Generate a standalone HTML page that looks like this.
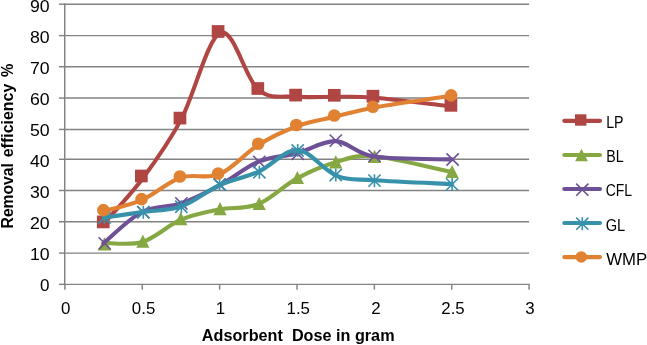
<!DOCTYPE html>
<html><head><meta charset="utf-8"><title>Removal efficiency vs adsorbent dose</title>
<style>
html,body{margin:0;padding:0;background:#fff;}
body{width:647px;height:345px;overflow:hidden;}
svg{display:block;will-change:transform;}
text{font-family:"Liberation Sans",sans-serif;fill:#000;}
.t{font-size:16.5px;}
.l{font-size:15.8px;}
.b{font-size:16.2px;font-weight:bold;}
</style></head><body>
<svg width="647" height="345" viewBox="0 0 647 345">
<rect width="647" height="345" fill="#ffffff"/>
<line x1="64.72" y1="253.10" x2="529.09" y2="253.10" stroke="#828282" stroke-width="1.45"/>
<line x1="64.72" y1="221.75" x2="529.09" y2="221.75" stroke="#828282" stroke-width="1.45"/>
<line x1="64.72" y1="190.50" x2="529.09" y2="190.50" stroke="#828282" stroke-width="1.45"/>
<line x1="64.72" y1="159.30" x2="529.09" y2="159.30" stroke="#828282" stroke-width="1.45"/>
<line x1="64.72" y1="129.45" x2="529.09" y2="129.45" stroke="#828282" stroke-width="1.45"/>
<line x1="64.72" y1="98.07" x2="529.09" y2="98.07" stroke="#828282" stroke-width="1.45"/>
<line x1="64.72" y1="66.75" x2="529.09" y2="66.75" stroke="#828282" stroke-width="1.45"/>
<line x1="64.72" y1="35.60" x2="529.09" y2="35.60" stroke="#828282" stroke-width="1.45"/>
<line x1="64.72" y1="4.20" x2="529.09" y2="4.20" stroke="#828282" stroke-width="1.45"/>
<line x1="64.72" y1="3.55" x2="64.72" y2="285.00" stroke="#828282" stroke-width="1.45"/>
<line x1="64.72" y1="284.35" x2="529.74" y2="284.35" stroke="#828282" stroke-width="1.45"/>
<line x1="59.00" y1="284.35" x2="64.72" y2="284.35" stroke="#828282" stroke-width="1.45"/>
<line x1="59.00" y1="253.10" x2="64.72" y2="253.10" stroke="#828282" stroke-width="1.45"/>
<line x1="59.00" y1="221.75" x2="64.72" y2="221.75" stroke="#828282" stroke-width="1.45"/>
<line x1="59.00" y1="190.50" x2="64.72" y2="190.50" stroke="#828282" stroke-width="1.45"/>
<line x1="59.00" y1="159.30" x2="64.72" y2="159.30" stroke="#828282" stroke-width="1.45"/>
<line x1="59.00" y1="129.45" x2="64.72" y2="129.45" stroke="#828282" stroke-width="1.45"/>
<line x1="59.00" y1="98.07" x2="64.72" y2="98.07" stroke="#828282" stroke-width="1.45"/>
<line x1="59.00" y1="66.75" x2="64.72" y2="66.75" stroke="#828282" stroke-width="1.45"/>
<line x1="59.00" y1="35.60" x2="64.72" y2="35.60" stroke="#828282" stroke-width="1.45"/>
<line x1="59.00" y1="4.20" x2="64.72" y2="4.20" stroke="#828282" stroke-width="1.45"/>
<line x1="64.90" y1="284.35" x2="64.90" y2="289.70" stroke="#828282" stroke-width="1.45"/>
<line x1="142.26" y1="284.35" x2="142.26" y2="289.70" stroke="#828282" stroke-width="1.45"/>
<line x1="219.63" y1="284.35" x2="219.63" y2="289.70" stroke="#828282" stroke-width="1.45"/>
<line x1="297.00" y1="284.35" x2="297.00" y2="289.70" stroke="#828282" stroke-width="1.45"/>
<line x1="374.36" y1="284.35" x2="374.36" y2="289.70" stroke="#828282" stroke-width="1.45"/>
<line x1="451.73" y1="284.35" x2="451.73" y2="289.70" stroke="#828282" stroke-width="1.45"/>
<line x1="529.09" y1="284.35" x2="529.09" y2="289.70" stroke="#828282" stroke-width="1.45"/>
<text x="49.6" y="290.70" text-anchor="end" class="t" textLength="9.5" lengthAdjust="spacingAndGlyphs">0</text>
<text x="49.6" y="260.25" text-anchor="end" class="t" textLength="19.7" lengthAdjust="spacingAndGlyphs">10</text>
<text x="49.6" y="228.65" text-anchor="end" class="t" textLength="19.7" lengthAdjust="spacingAndGlyphs">20</text>
<text x="49.6" y="197.65" text-anchor="end" class="t" textLength="19.7" lengthAdjust="spacingAndGlyphs">30</text>
<text x="49.6" y="167.45" text-anchor="end" class="t" textLength="19.7" lengthAdjust="spacingAndGlyphs">40</text>
<text x="49.6" y="135.75" text-anchor="end" class="t" textLength="19.7" lengthAdjust="spacingAndGlyphs">50</text>
<text x="49.6" y="105.02" text-anchor="end" class="t" textLength="19.7" lengthAdjust="spacingAndGlyphs">60</text>
<text x="49.6" y="73.80" text-anchor="end" class="t" textLength="19.7" lengthAdjust="spacingAndGlyphs">70</text>
<text x="49.6" y="43.15" text-anchor="end" class="t" textLength="19.7" lengthAdjust="spacingAndGlyphs">80</text>
<text x="49.6" y="12.45" text-anchor="end" class="t" textLength="19.7" lengthAdjust="spacingAndGlyphs">90</text>
<text x="65.80" y="313.75" text-anchor="middle" class="t" textLength="9.4" lengthAdjust="spacingAndGlyphs">0</text>
<text x="143.56" y="313.75" text-anchor="middle" class="t" textLength="23.4" lengthAdjust="spacingAndGlyphs">0.5</text>
<text x="220.53" y="313.75" text-anchor="middle" class="t" textLength="9.4" lengthAdjust="spacingAndGlyphs">1</text>
<text x="298.29" y="313.75" text-anchor="middle" class="t" textLength="23.4" lengthAdjust="spacingAndGlyphs">1.5</text>
<text x="376.06" y="313.75" text-anchor="middle" class="t" textLength="9.4" lengthAdjust="spacingAndGlyphs">2</text>
<text x="453.02" y="313.75" text-anchor="middle" class="t" textLength="23.4" lengthAdjust="spacingAndGlyphs">2.5</text>
<text x="529.99" y="313.75" text-anchor="middle" class="t" textLength="9.4" lengthAdjust="spacingAndGlyphs">3</text>
<text x="298.2" y="341.2" text-anchor="middle" class="b" textLength="192.7" lengthAdjust="spacingAndGlyphs" xml:space="preserve">Adsorbent  Dose in gram</text>
<text transform="translate(12.8,228.40) rotate(-90)" class="b" textLength="65.3" lengthAdjust="spacingAndGlyphs">Removal</text>
<text transform="translate(12.8,157.30) rotate(-90)" class="b" textLength="73.6" lengthAdjust="spacingAndGlyphs">efficiency</text>
<text transform="translate(12.8,76.90) rotate(-90)" class="b" textLength="13.3" lengthAdjust="spacingAndGlyphs">%</text>
<path d="M103.58,223.70 C110.03,216.25 129.37,196.30 142.26,179.00 C155.16,161.70 167.89,144.28 180.95,119.90 C194.01,95.52 207.74,37.72 220.63,32.70 C233.52,27.68 245.59,79.15 258.31,89.80 C271.04,100.45 284.10,95.43 297.00,96.60 C309.89,97.77 322.78,96.62 335.68,96.80 C348.57,96.98 355.02,96.10 374.36,97.70 C393.70,99.30 438.83,104.95 451.73,106.40" fill="none" stroke="#B04644" stroke-width="4.10" stroke-linecap="round" stroke-linejoin="round"/>
<rect x="96.90" y="215.55" width="12.70" height="12.70" fill="#B04644"/>
<rect x="135.01" y="169.65" width="12.70" height="12.70" fill="#B04644"/>
<rect x="173.60" y="111.75" width="12.70" height="12.70" fill="#B04644"/>
<rect x="211.73" y="25.15" width="12.70" height="12.70" fill="#B04644"/>
<rect x="251.46" y="82.15" width="12.70" height="12.70" fill="#B04644"/>
<rect x="289.25" y="88.75" width="12.70" height="12.70" fill="#B04644"/>
<rect x="327.93" y="88.95" width="12.70" height="12.70" fill="#B04644"/>
<rect x="366.61" y="89.85" width="12.70" height="12.70" fill="#B04644"/>
<rect x="444.58" y="99.00" width="12.70" height="12.70" fill="#B04644"/>
<path d="M103.58,242.80 C110.03,242.67 129.37,245.85 142.26,242.00 C155.16,238.15 168.05,225.13 180.95,219.70 C193.84,214.27 206.74,211.98 219.63,209.40 C232.52,206.82 245.42,209.37 258.31,204.20 C271.21,199.03 284.10,185.40 297.00,178.40 C309.89,171.40 322.78,165.88 335.68,162.20 C348.57,158.52 355.02,154.63 374.36,156.30 C393.70,157.97 438.83,169.55 451.73,172.20" fill="none" stroke="#86A842" stroke-width="4.10" stroke-linecap="round" stroke-linejoin="round"/>
<path d="M104.44,237.25 L111.04,250.45 L97.84,250.45 Z" fill="#86A842"/>
<path d="M142.86,234.60 L149.46,247.80 L136.26,247.80 Z" fill="#86A842"/>
<path d="M180.85,212.07 L187.45,225.27 L174.25,225.27 Z" fill="#86A842"/>
<path d="M220.03,202.10 L226.63,215.30 L213.43,215.30 Z" fill="#86A842"/>
<path d="M259.21,196.90 L265.81,210.10 L252.61,210.10 Z" fill="#86A842"/>
<path d="M297.39,170.90 L304.00,184.10 L290.79,184.10 Z" fill="#86A842"/>
<path d="M335.78,155.20 L342.38,168.40 L329.18,168.40 Z" fill="#86A842"/>
<path d="M374.56,149.70 L381.16,162.90 L367.96,162.90 Z" fill="#86A842"/>
<path d="M452.12,164.90 L458.73,178.10 L445.52,178.10 Z" fill="#86A842"/>
<path d="M103.58,243.20 C110.03,237.97 129.37,218.42 142.26,211.80 C155.16,205.18 168.05,207.90 180.95,203.50 C193.84,199.10 206.74,192.37 219.63,185.40 C232.52,178.43 245.42,167.07 258.31,161.70 C271.21,156.33 284.10,156.63 297.00,153.20 C309.89,149.77 322.78,140.53 335.68,141.10 C348.57,141.67 355.02,153.55 374.36,156.60 C393.70,159.65 438.83,158.93 451.73,159.40" fill="none" stroke="#6E5096" stroke-width="4.10" stroke-linecap="round" stroke-linejoin="round"/>
<path d="M98.62,237.30 L110.82,249.50 M98.62,249.50 L110.82,237.30" stroke="#6E5096" stroke-width="1.6" fill="none"/>
<path d="M137.22,206.00 L149.41,218.20 M137.22,218.20 L149.41,206.00" stroke="#6E5096" stroke-width="1.6" fill="none"/>
<path d="M175.25,197.30 L187.45,209.50 M175.25,209.50 L187.45,197.30" stroke="#6E5096" stroke-width="1.6" fill="none"/>
<path d="M213.53,178.40 L225.73,190.60 M213.53,190.60 L225.73,178.40" stroke="#6E5096" stroke-width="1.6" fill="none"/>
<path d="M253.21,155.80 L265.41,168.00 M253.21,168.00 L265.41,155.80" stroke="#6E5096" stroke-width="1.6" fill="none"/>
<path d="M291.59,147.70 L303.80,159.90 M291.59,159.90 L303.80,147.70" stroke="#6E5096" stroke-width="1.6" fill="none"/>
<path d="M329.68,134.50 L341.88,146.70 M329.68,146.70 L341.88,134.50" stroke="#6E5096" stroke-width="1.6" fill="none"/>
<path d="M368.46,149.80 L380.66,162.00 M368.46,162.00 L380.66,149.80" stroke="#6E5096" stroke-width="1.6" fill="none"/>
<path d="M446.52,153.40 L458.73,165.60 M446.52,165.60 L458.73,153.40" stroke="#6E5096" stroke-width="1.6" fill="none"/>
<path d="M103.58,217.80 C110.03,216.83 129.37,213.88 142.26,212.00 C155.16,210.12 168.05,211.03 180.95,206.55 C193.84,202.07 206.74,190.89 219.63,185.10 C232.52,179.31 245.32,177.63 258.31,171.80 C271.31,165.97 284.60,149.47 297.60,150.10 C310.59,150.73 323.48,170.57 336.28,175.60 C349.07,180.63 355.12,178.88 374.36,180.30 C393.60,181.72 438.83,183.47 451.73,184.10" fill="none" stroke="#3791AA" stroke-width="4.10" stroke-linecap="round" stroke-linejoin="round"/>
<path d="M98.38,211.40 L110.58,223.60 M98.38,223.60 L110.58,211.40 M104.48,211.00 L104.48,224.00" stroke="#3791AA" stroke-width="1.6" fill="none"/>
<path d="M137.22,206.20 L149.41,218.40 M137.22,218.40 L149.41,206.20 M143.31,205.80 L143.31,218.80" stroke="#3791AA" stroke-width="1.6" fill="none"/>
<path d="M175.25,200.65 L187.45,212.85 M175.25,212.85 L187.45,200.65 M181.35,200.25 L181.35,213.25" stroke="#3791AA" stroke-width="1.6" fill="none"/>
<path d="M213.53,178.40 L225.73,190.60 M213.53,190.60 L225.73,178.40 M219.63,178.00 L219.63,191.00" stroke="#3791AA" stroke-width="1.6" fill="none"/>
<path d="M253.26,166.20 L265.46,178.40 M253.26,178.40 L265.46,166.20 M259.36,165.80 L259.36,178.80" stroke="#3791AA" stroke-width="1.6" fill="none"/>
<path d="M291.59,144.40 L303.80,156.60 M291.59,156.60 L303.80,144.40 M297.69,144.00 L297.69,157.00" stroke="#3791AA" stroke-width="1.6" fill="none"/>
<path d="M329.68,168.90 L341.88,181.10 M329.68,181.10 L341.88,168.90 M335.78,168.50 L335.78,181.50" stroke="#3791AA" stroke-width="1.6" fill="none"/>
<path d="M368.36,174.55 L380.56,186.75 M368.36,186.75 L380.56,174.55 M374.46,174.15 L374.46,187.15" stroke="#3791AA" stroke-width="1.6" fill="none"/>
<path d="M446.02,178.30 L458.23,190.50 M446.02,190.50 L458.23,178.30 M452.12,177.90 L452.12,190.90" stroke="#3791AA" stroke-width="1.6" fill="none"/>
<path d="M103.58,211.10 C110.03,209.22 129.37,205.40 142.26,199.80 C155.16,194.20 168.05,181.77 180.95,177.50 C193.84,173.23 206.74,179.63 219.63,174.20 C232.52,168.77 245.42,152.90 258.31,144.90 C271.21,136.90 284.10,130.92 297.00,126.20 C309.89,121.48 322.78,119.72 335.68,116.60 C348.57,113.48 355.02,110.98 374.36,107.50 C393.70,104.02 438.83,97.67 451.73,95.70" fill="none" stroke="#E08232" stroke-width="4.10" stroke-linecap="round" stroke-linejoin="round"/>
<circle cx="103.38" cy="210.17" r="6.30" fill="#E08232"/>
<circle cx="141.56" cy="199.15" r="6.30" fill="#E08232"/>
<circle cx="179.90" cy="176.50" r="6.30" fill="#E08232"/>
<circle cx="218.13" cy="173.50" r="6.30" fill="#E08232"/>
<circle cx="258.21" cy="143.80" r="6.30" fill="#E08232"/>
<circle cx="296.32" cy="125.00" r="6.30" fill="#E08232"/>
<circle cx="334.28" cy="115.55" r="6.30" fill="#E08232"/>
<circle cx="372.86" cy="106.70" r="6.30" fill="#E08232"/>
<circle cx="451.12" cy="95.35" r="6.30" fill="#E08232"/>
<line x1="564.3" y1="120.85" x2="600" y2="120.85" stroke="#B04644" stroke-width="4.10" stroke-linecap="round"/>
<rect x="575.00" y="114.30" width="11.40" height="11.40" fill="#B04644"/>
<text x="606.2" y="127.75" class="t l" textLength="17.4" lengthAdjust="spacingAndGlyphs">LP</text>
<line x1="564.3" y1="155.00" x2="600" y2="155.00" stroke="#86A842" stroke-width="4.10" stroke-linecap="round"/>
<path d="M581.50,148.80 L587.90,161.20 L575.10,161.20 Z" fill="#86A842"/>
<text x="606.2" y="162.10" class="t l" textLength="17.4" lengthAdjust="spacingAndGlyphs">BL</text>
<line x1="564.3" y1="189.00" x2="600" y2="189.00" stroke="#6E5096" stroke-width="4.10" stroke-linecap="round"/>
<path d="M576.20,183.60 L588.40,195.80 M576.20,195.80 L588.40,183.60" stroke="#6E5096" stroke-width="1.6" fill="none"/>
<text x="605.7" y="196.30" class="t l" textLength="26.4" lengthAdjust="spacingAndGlyphs">CFL</text>
<line x1="564.3" y1="223.00" x2="600" y2="223.00" stroke="#3791AA" stroke-width="4.10" stroke-linecap="round"/>
<path d="M576.20,217.60 L588.40,229.80 M576.20,229.80 L588.40,217.60 M582.30,217.20 L582.30,230.20" stroke="#3791AA" stroke-width="1.6" fill="none"/>
<text x="605.7" y="230.55" class="t l" textLength="19.6" lengthAdjust="spacingAndGlyphs">GL</text>
<line x1="564.3" y1="257.10" x2="600" y2="257.10" stroke="#E08232" stroke-width="4.10" stroke-linecap="round"/>
<circle cx="581.30" cy="256.90" r="5.75" fill="#E08232"/>
<text x="606.2" y="264.90" class="t l" textLength="41.0" lengthAdjust="spacingAndGlyphs">WMP</text>
</svg>
</body></html>
